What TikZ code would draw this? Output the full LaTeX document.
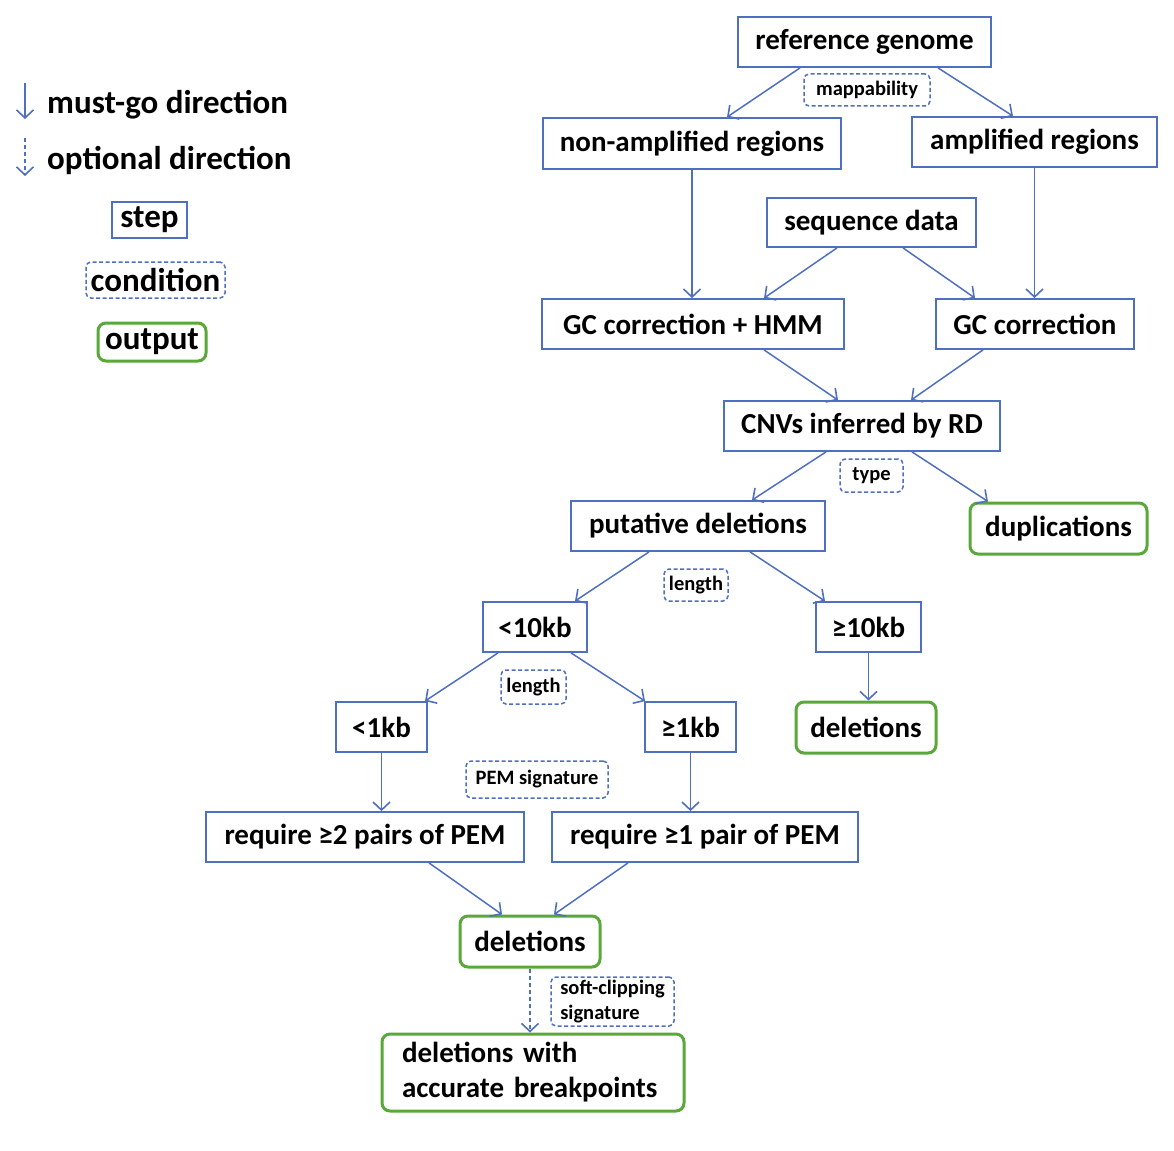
\documentclass[tikz,border=0pt]{standalone}
\usepackage{fontspec}
\setmainfont{Carlito}
\usetikzlibrary{arrows.meta,calc}
\definecolor{bl}{HTML}{4F6FC0}
\definecolor{gr}{HTML}{58A83A}
\begin{document}
\begin{tikzpicture}[x=1pt,y=-1pt,
  box/.style={draw=bl,line width=1.8pt,inner sep=0pt,font=\fontsize{29}{34}\selectfont\bfseries},
  cond/.style={draw=bl,dashed,dash pattern=on 4pt off 2.5pt,rounded corners=5pt,line width=1.5pt,inner sep=0pt,font=\fontsize{20.5}{25}\selectfont\bfseries},
  outbox/.style={draw=gr,line width=3pt,rounded corners=8pt,inner sep=0pt,font=\fontsize{29}{35}\selectfont\bfseries},
  arr/.style={draw=bl,line width=1.5pt,-{Straight Barb[length=8pt,width=17pt,line width=1.6pt]}},
  darr/.style={arr,dash pattern=on 4pt off 3pt},
  leg/.style={font=\fontsize{33}{38}\selectfont\bfseries,anchor=west,inner sep=0pt}]
\useasboundingbox (0,0) rectangle (1174,1150);
% legend
\coordinate (l1a) at (25,83); \coordinate (l1b) at (25,119);
\coordinate (l2a) at (25,138); \coordinate (l2b) at (25,176);
\draw[arr] (l1a) -- (l1b);
\draw[darr] (l2a) -- (l2b);
\node[leg] (t1) at (47,105) {must-go direction};
\node[leg] (t2) at (47,160) {optional direction};
\node[box,minimum width=75,minimum height=36,font=\fontsize{33}{38}\selectfont\bfseries] (lstep) at (149.5,220) {step};
\node[cond,minimum width=139,minimum height=36,font=\fontsize{33}{38}\selectfont\bfseries] (lcond) at (155.5,280) {condition};
\node[outbox,minimum width=108,minimum height=38,font=\fontsize{33}{38}\selectfont\bfseries] (lout) at (152,342) {output};
% main boxes
\node[box,minimum width=253,minimum height=50] (ref) at (864.5,42) {reference genome};
\node[cond,minimum width=126,minimum height=32] (map) at (867,90) {mappability};
\node[box,minimum width=298,minimum height=51] (nonamp) at (692,143.5) {non-amplified regions};
\node[box,minimum width=245,minimum height=50] (amp) at (1034.5,142) {amplified regions};
\node[box,minimum width=209,minimum height=49] (seq) at (871.5,222.5) {sequence data};
\node[box,minimum width=302,minimum height=50] (gchmm) at (693,324) {GC correction + HMM};
\node[box,minimum width=198,minimum height=50] (gc) at (1035,324) {GC correction};
\node[box,minimum width=276,minimum height=50] (cnv) at (862,426) {CNVs inferred by RD};
\node[cond,minimum width=63,minimum height=33] (type) at (871.5,475.5) {type};
\node[box,minimum width=254,minimum height=50] (put) at (698,526) {putative deletions};
\node[outbox,minimum width=177,minimum height=51] (dup) at (1058.5,528.5) {duplications};
\node[cond,minimum width=64,minimum height=32] (len1) at (696,585) {length};
\node[box,minimum width=104,minimum height=50] (lt10) at (535,627) {<10kb};
\node[box,minimum width=105,minimum height=50] (ge10) at (868.5,627) {≥10kb};
\node[cond,minimum width=65,minimum height=34] (len2) at (533.5,687) {length};
\node[box,minimum width=91,minimum height=50] (lt1) at (381.5,727) {<1kb};
\node[box,minimum width=91,minimum height=50] (ge1) at (690.5,727) {≥1kb};
\node[outbox,minimum width=140,minimum height=51] (del1) at (866,727.5) {deletions};
\node[cond,minimum width=142,minimum height=37] (pem) at (537,779.5) {PEM signature};
\node[box,minimum width=318,minimum height=50] (req2) at (365,837) {require ≥2 pairs of PEM};
\node[box,minimum width=306,minimum height=50] (req1) at (705,837) {require ≥1 pair of PEM};
\node[outbox,minimum width=140,minimum height=51] (del2) at (530,941.5) {deletions};
\node[cond,minimum width=123,minimum height=49,align=left,font=\fontsize{20.5}{25}\selectfont\bfseries] (soft) at (612.5,1001.5) {soft-clipping\\signature};
\node[outbox,minimum width=302,minimum height=77,align=left,text width=262,font=\fontsize{29}{35}\selectfont\bfseries] (acc) at (533,1072.5) {deletions with\\accurate breakpoints};
% connectors
\draw[arr] ($(ref.south)+(-64.5,0)$) -- ($(nonamp.north)+(35,0)$);
\draw[arr] ($(ref.south)+(73.5,0)$) -- ($(amp.north)+(-21.5,0)$);
\draw[arr] (nonamp.south) -- (nonamp.south |- gchmm.north);
\draw[arr] (amp.south) -- (amp.south |- gc.north);
\draw[arr] ($(seq.south)+(-34.5,0)$) -- ($(gchmm.north)+(71,0)$);
\draw[arr] ($(seq.south)+(31.5,0)$) -- ($(gc.north)+(-60,0)$);
\draw[arr] ($(gchmm.south)+(71,0)$) -- ($(cnv.north)+(-24,0)$);
\draw[arr] ($(gc.south)+(-52,0)$) -- ($(cnv.north)+(49,0)$);
\draw[arr] ($(cnv.south)+(-36,0)$) -- ($(put.north)+(54,0)$);
\draw[arr] ($(cnv.south)+(50,0)$) -- ($(dup.north)+(-70.5,0)$);
\draw[arr] ($(put.south)+(-49,0)$) -- ($(lt10.north)+(40,0)$);
\draw[arr] ($(put.south)+(52,0)$) -- ($(ge10.north)+(-43.5,0)$);
\draw[arr] (ge10.south) -- (ge10.south |- del1.north);
\draw[arr] ($(lt10.south)+(-37,0)$) -- ($(lt1.north)+(43.5,0)$);
\draw[arr] ($(lt10.south)+(36,0)$) -- ($(ge1.north)+(-45.5,0)$);
\draw[arr] (lt1.south) -- (lt1.south |- req2.north);
\draw[arr] (ge1.south) -- (ge1.south |- req1.north);
\draw[arr] ($(req2.south)+(64,0)$) -- ($(del2.north)+(-28,0)$);
\draw[arr] ($(req1.south)+(-77,0)$) -- ($(del2.north)+(24,0)$);
\draw[darr] (del2.south) -- (del2.south |- acc.north);
\end{tikzpicture}
\end{document}
